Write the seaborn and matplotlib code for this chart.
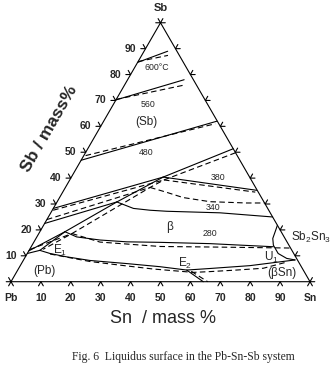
import numpy as np
import pandas as pd
import matplotlib
matplotlib.use("Agg")
import matplotlib.pyplot as plt
import seaborn as sns

# ---------------- data (Sn mass%, Sb mass%) ----------------
iso600_calc = [(0.0, 84.7), (7.9, 89.0)]
iso600_exp = [(0.0, 85.0), (8.8, 87.4)]
iso560_calc = [(0.0, 70.2), (18.9, 78.0)]
iso560_exp = [(0.0, 70.4), (20.2, 76.0)]
iso480_calc = [(0.0, 46.9), (37.9, 62.0)]
iso480_exp = [(0.6, 48.7), (37.8, 61.0)]
iso380_sb_calc = [(0.0, 28.3), (30.7, 40.4)]
iso380_sb_exp = [(0.3, 27.6), (31.5, 39.3)]
iso380_beta_calc = [(30.7, 40.4), (64.5, 35.3)]
iso380_beta_exp = [(31.5, 39.3), (64.4, 34.6)]
iso340_sb_calc = [(0.0, 22.5), (20.0, 30.8)]
iso340_sb_exp = [(0.0, 24.0), (28.3, 36.4)]
iso340_beta_calc = [(20.0, 30.8), (26.8, 28.3), (32.7, 27.6), (38.5, 27.2),
                    (56.6, 26.6), (75.0, 25.0)]
iso340_beta_exp = [(28.3, 36.4), (34.2, 34.7), (41.3, 32.5), (51.1, 30.9),
                   (63.6, 30.4), (69.6, 30.4)]
iso280_sb_calc = [(0.0, 11.9), (8.4, 19.3)]
iso280_sb_exp = [(0.0, 12.4), (11.1, 18.6)]
iso280_beta_calc = [(8.4, 19.3), (13.3, 17.3), (21.7, 16.1), (31.0, 15.4),
                    (42.2, 15.2), (59.2, 14.7), (81.0, 13.5)]
iso280_beta_exp = [(11.1, 18.6), (22.1, 15.3), (43.1, 13.6), (59.9, 13.4),
                   (87.0, 13.0)]
sb_beta_calc = [(48.65, 51.35), (30.7, 40.4), (20.0, 30.8), (8.4, 19.3), (3.6, 12.1)]
sb_beta_exp = [(50.2, 49.8), (31.5, 39.3), (28.3, 36.4), (11.1, 18.6), (4.5, 12.5)]
pb_sb_calc = [(0.0, 10.9), (3.6, 12.1)]
e1_u1_calc = [(3.6, 12.1), (7.6, 10.9), (13.8, 9.6), (22.3, 8.2), (35.2, 7.0),
              (46.9, 5.8), (56.5, 4.5), (64.0, 5.1), (76.8, 6.2), (90.8, 8.4)]
e1_u1_exp = [(7.7, 10.7), (22.5, 7.8), (33.2, 6.4), (45.1, 4.9), (59.2, 3.6),
             (64.6, 3.9), (73.2, 4.5), (81.8, 5.2), (88.5, 7.6)]
e2_calc = [(56.5, 4.5), (64.3, 0.0)]
e2_exp = [(58.3, 4.0), (65.8, 0.0)]
sb2sn3_calc = [(78.2, 21.8), (78.7, 19.3), (79.2, 16.7), (80.7, 14.1),
               (83.9, 10.9), (87.7, 9.0), (90.8, 8.4)]

curves = {
    "iso600_calc": (iso600_calc, "calc"), "iso600_exp": (iso600_exp, "exp"),
    "iso560_calc": (iso560_calc, "calc"), "iso560_exp": (iso560_exp, "exp"),
    "iso480_calc": (iso480_calc, "calc"), "iso480_exp": (iso480_exp, "exp"),
    "iso380_sb_calc": (iso380_sb_calc, "calc"), "iso380_sb_exp": (iso380_sb_exp, "exp"),
    "iso380_beta_calc": (iso380_beta_calc, "calc"), "iso380_beta_exp": (iso380_beta_exp, "exp"),
    "iso340_sb_calc": (iso340_sb_calc, "calc"), "iso340_sb_exp": (iso340_sb_exp, "exp"),
    "iso340_beta_calc": (iso340_beta_calc, "calc"), "iso340_beta_exp": (iso340_beta_exp, "exp"),
    "iso280_sb_calc": (iso280_sb_calc, "calc"), "iso280_sb_exp": (iso280_sb_exp, "exp"),
    "iso280_beta_calc": (iso280_beta_calc, "calc"), "iso280_beta_exp": (iso280_beta_exp, "exp"),
    "sb_beta_calc": (sb_beta_calc, "calc"), "sb_beta_exp": (sb_beta_exp, "exp"),
    "pb_sb_calc": (pb_sb_calc, "calc"),
    "e1_u1_calc": (e1_u1_calc, "calc"), "e1_u1_exp": (e1_u1_exp, "exp"),
    "e2_calc": (e2_calc, "calc"), "e2_exp": (e2_exp, "exp"),
    "sb2sn3_calc": (sb2sn3_calc, "calc"),
}

sn_ticks = [0, 10, 20, 30, 40, 50, 60, 70, 80, 90, 100]
sb_ticks = [0, 10, 20, 30, 40, 50, 60, 70, 80, 90, 100]
bottom_labels = ["Pb", "10", "20", "30", "40", "50", "60", "70", "80", "90", "Sn"]
left_labels = ["10", "20", "30", "40", "50", "60", "70", "80", "90"]

# label anchor compositions (Sn, Sb)
iso_labels = ["600°C", "560", "480", "380", "340", "280"]
iso_label_pos = [(7.5, 82.7), (11.6, 68.4), (20.2, 49.8), (49.2, 40.3), (53.3, 28.8), (57.3, 18.6)]
field_labels = ["(Sb)", "β", "(Pb)", "(βSn)", "E$_1$", "E$_2$", "U$_1$"]
field_label_pos = [(14.4, 61.5), (42.6, 21.1), (9.0, 4.1), (89.0, 3.35),
                   (10.3, 12.2), (54.6, 7.2), (82.2, 9.5)]

# ---------------- style ----------------
sns.set_theme(style="white")
plt.rcParams['font.family'] = ['Liberation Sans', 'DejaVu Sans']
plt.rcParams['mathtext.fontset'] = 'custom'
plt.rcParams['mathtext.rm'] = 'Liberation Sans'
plt.rcParams['mathtext.it'] = 'Liberation Sans:italic'
plt.rcParams['mathtext.bf'] = 'Liberation Sans:bold'
plt.rcParams['mathtext.default'] = 'regular'

H = np.sqrt(3) / 2


def tern(sn, sb):
    sn = np.asarray(sn, dtype=float)
    sb = np.asarray(sb, dtype=float)
    return sn + sb / 2.0, sb * H


rows = []
for name, (pts, kind) in curves.items():
    for i, (sn, sb) in enumerate(pts):
        x, y = tern(sn, sb)
        rows.append({"X": float(x), "Y": float(y), "curve": name, "kind": kind, "order": i})
df = pd.DataFrame(rows)

PX = 2.99
fig = plt.figure(figsize=(3.33, 3.69), dpi=100)
ax = fig.add_axes([0, 0, 1, 1])
ax.set_xlim(-11 / PX, (333 - 11) / PX)
ax.set_ylim(-(369 - 281.7) / PX, 281.7 / PX)
ax.axis('off')

sns.lineplot(data=df, x="X", y="Y", units="curve", estimator=None, sort=False,
             style="kind", dashes={"calc": "", "exp": (5, 3)}, color="black",
             lw=0.8, legend=False, ax=ax)

# triangle frame
frame = pd.DataFrame({"X": [0, 100, 50, 0], "Y": [0, 0, 100 * H, 0]})
sns.lineplot(data=frame, x="X", y="Y", sort=False, estimator=None, color="black", lw=0.8, ax=ax)

# ticks
L = 1.6
for sn in sn_ticks:
    x0, y0 = tern(sn, 0)
    ax.plot([x0 - 0.5 * L, x0, x0 + 0.5 * L], [y0 - H * L, y0, y0 - H * L], color="black", lw=0.8)
for sb in sb_ticks:
    x0, y0 = tern(0, sb)
    ax.plot([x0 - L, x0, x0 - 0.5 * L], [y0, y0, y0 + H * L], color="black", lw=0.8)
    x1, y1 = tern(100 - sb, sb)
    ax.plot([x1 + L, x1, x1 + 0.5 * L], [y1, y1, y1 + H * L], color="black", lw=0.8)

# tick labels
for sn, lab in zip(sn_ticks, bottom_labels):
    x0, _ = tern(sn, 0)
    ax.text(x0, -5.6, lab, ha="center", va="center", fontsize=7.5, fontweight="bold")
for sb, lab in zip(sb_ticks[1:-1], left_labels):
    x0, y0 = tern(0, sb)
    ax.text(x0 - 5.0, y0, lab, ha="center", va="center", fontsize=7.5, fontweight="bold")
ax.text(50.2, 91.7, "Sb", ha="center", va="center", fontsize=8, fontweight="bold")

# labels inside
for lab, (sn, sb) in zip(iso_labels, iso_label_pos):
    x, y = tern(sn, sb)
    ax.text(x, y, lab, ha="center", va="center", fontsize=6.3)
for lab, (sn, sb) in zip(field_labels, field_label_pos):
    x, y = tern(sn, sb)
    ax.text(x, y, lab, ha="center", va="center", fontsize=8.5)
ax.text(93.8, 14.95, "Sb$_2$Sn$_3$", ha="left", va="center", fontsize=8.5)

# axis titles and caption
ax.text(51.0, -12.2, "Sn  / mass %", ha="center", va="center", fontsize=13)
ax.text(12.7, 51.1, "Sb / mass%", ha="center", va="center", fontsize=12.5,
        fontweight="bold", rotation=60, rotation_mode="anchor")
ax.text(57.7, -25.1, "Fig. 6  Liquidus surface in the Pb-Sn-Sb system",
        ha="center", va="center", fontsize=8.4, family=["Liberation Serif", "DejaVu Serif"])

fig.savefig("out.png", dpi=100)
